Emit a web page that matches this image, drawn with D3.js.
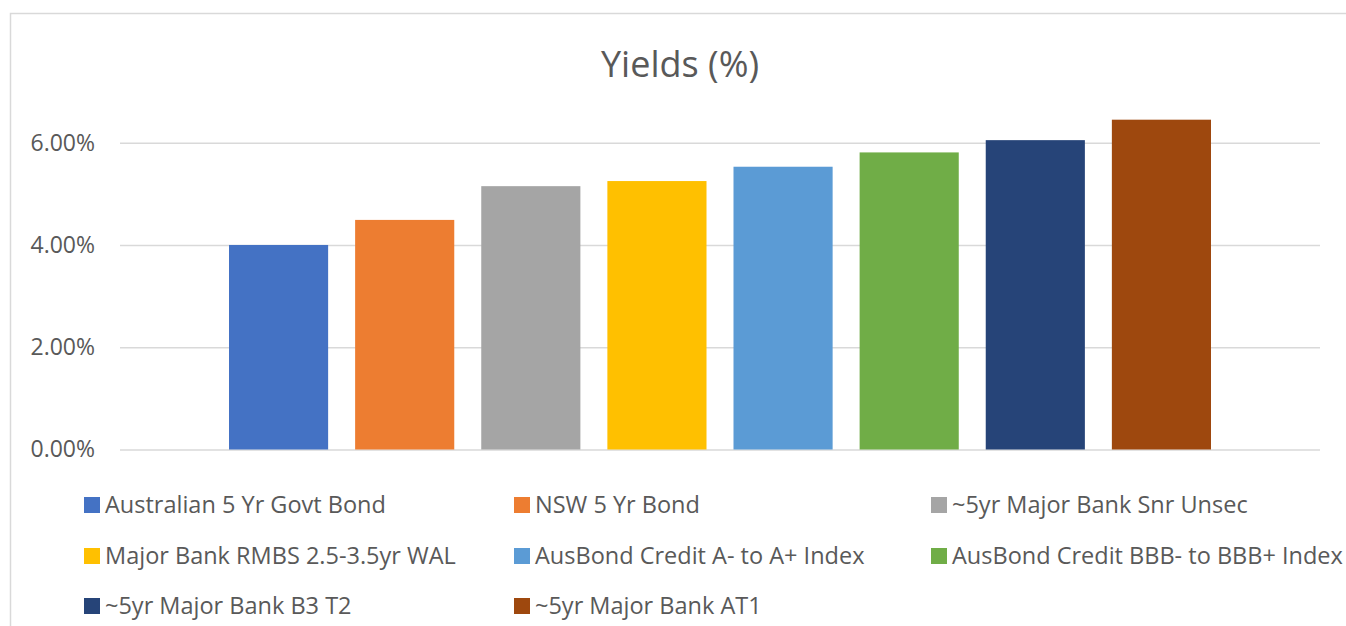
<!DOCTYPE html>
<html>
<head>
<meta charset="utf-8">
<script src="https://cdn.jsdelivr.net/npm/d3@7"></script>
<style>
  body { margin: 0; background: #fff; }
  text { font-family: "Open Sans", sans-serif; fill: #595959; }
</style>
</head>
<body>
<div id="chart"></div>
<script>
// data
var series = [
  "Australian 5 Yr Govt Bond",
  "NSW 5 Yr Bond",
  "~5yr Major Bank Snr Unsec",
  "Major Bank RMBS 2.5-3.5yr WAL",
  "AusBond Credit A- to A+ Index",
  "AusBond Credit BBB- to BBB+ Index",
  "~5yr Major Bank B3 T2",
  "~5yr Major Bank AT1"
];
var yields = [4.00, 4.49, 5.15, 5.25, 5.53, 5.81, 6.05, 6.45];
var colors = ["#4472C4", "#ED7D31", "#A5A5A5", "#FFC000", "#5B9BD5", "#70AD47", "#264478", "#9E480E"];
var yTicks = [0, 2, 4, 6];

var width = 1346, height = 626;
var plot = {left: 120, right: 1320, top: 142.7, bottom: 449.5};
var clusterPad = 109;

var svg = d3.select("#chart").append("svg")
    .attr("width", width)
    .attr("height", height);

// chart area frame
svg.append("rect")
    .attr("x", 10.5).attr("y", 13.5)
    .attr("width", 1400).attr("height", 700)
    .attr("fill", "none")
    .attr("stroke", "#D9D9D9")
    .attr("stroke-width", 1.5);

svg.append("text")
    .attr("x", 680).attr("y", 77)
    .attr("text-anchor", "middle")
    .style("font-size", "36px")
    .text("Yields (%)");

var y = d3.scaleLinear()
    .domain([0, 6])
    .range([plot.bottom, plot.top]);

var x = d3.scaleBand()
    .domain(series)
    .range([plot.left + clusterPad, plot.right - clusterPad])
    .paddingInner(0.214);

// gridlines + tick labels
var yAxis = svg.append("g")
    .attr("transform", "translate(" + plot.left + ",0)")
    .call(d3.axisLeft(y)
      .tickValues(yTicks)
      .tickSize(-(plot.right - plot.left))
      .tickPadding(25)
      .tickFormat(function(d) { return d3.format(".2f")(d) + "%"; }));
yAxis.select(".domain").remove();
yAxis.selectAll(".tick line")
    .attr("stroke", "#D9D9D9")
    .attr("stroke-width", 1.5);
yAxis.selectAll(".tick text")
    .style("font-size", "23px")
    .attr("fill", "#595959");

svg.append("g")
  .selectAll("rect")
  .data(series)
  .join("rect")
    .attr("x", function(d) { return x(d); })
    .attr("width", x.bandwidth())
    .attr("y", function(d, i) { return y(yields[i]); })
    .attr("height", function(d, i) { return y(0) - y(yields[i]); })
    .attr("fill", function(d, i) { return colors[i]; });

// legend, 3 columns
var legCols = [84, 514, 931];
var legRows = [505, 556, 606];
var legend = svg.append("g")
  .selectAll("g")
  .data(series)
  .join("g")
    .attr("transform", function(d, i) {
      return "translate(" + legCols[i % 3] + "," + legRows[Math.floor(i / 3)] + ")";
    });
legend.append("rect")
    .attr("x", 0).attr("y", -8)
    .attr("width", 16).attr("height", 16)
    .attr("fill", function(d, i) { return colors[i]; });
legend.append("text")
    .attr("x", 21).attr("y", 0)
    .attr("dy", "0.35em")
    .style("font-size", "23.5px")
    .text(function(d) { return d; });
</script>
</body>
</html>
